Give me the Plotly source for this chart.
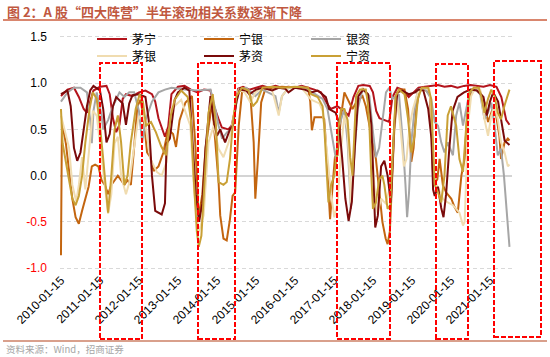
import numpy as np
import pandas as pd
import plotly.graph_objects as go

# ---------------- data ----------------
# x: months elapsed since 2010-01-15 ; y: rolling half-year correlation
BASE_DATE = "2010-01-15"

maoning = [(0,0.86),(2,0.93),(4,0.95),(5.5,0.85),(7,0.72),(8,0.68),(9,0.80),(10,0.92),(12,0.96),(14,0.97),
           (15,0.88),(16,0.62),(17,0.47),(18,0.55),(19,0.83),(20,0.88),(22,0.86),(24,0.90),(26,0.92),(28,0.88),
           (29,0.80),(30,0.62),(32,0.42),(33,0.53),(34,0.88),(36,0.96),(38,0.97),(40,0.93),(42,0.90),(44,0.93),
           (46,0.92),(47,0.76),(48.5,0.61),(49.5,0.52),(51.5,0.50),(52.5,0.54),(53.5,0.70),(54.5,0.94),(56,0.96),
           (58,0.93),(60,0.95),(62,0.97),(64,0.95),(66,0.97),(68,0.95),(70,0.96),(72,0.95),(74,0.97),(76,0.95),
           (78,0.93),(80,0.90),(81.5,0.80),(83,0.72),(85,0.75),(87,0.70),(88.5,0.65),(90,0.85),(91.5,0.97),
           (93,0.98),(95,0.97),(96,0.90),(97,0.70),(98,0.62),(99.5,0.60),(101,0.58),(102,0.85),(103.5,0.95),
           (105,0.93),(107,0.85),(108.5,0.90),(110,0.95),(112,0.96),(114,0.97),(116,0.98),(118,0.96),(120,0.97),
           (122,0.95),(124,0.97),(126,0.98),(128,0.97),(130,0.96),(132,0.98),(134,0.96),(135.5,0.85),(137,0.60),
           (138,0.55)]

ningyin = [(0,-0.86),(0.3,0.58),(1.5,0.35),(2.5,0.05),(3.5,-0.25),(4.5,-0.45),(5.5,-0.52),(6.5,-0.38),(7.5,-0.25),
           (8.5,-0.12),(9.5,0.10),(10.5,0.12),(11.5,0.10),(12.5,-0.05),(13.5,-0.10),(14.5,-0.20),(15.5,-0.10),
           (16.5,-0.05),(17.5,0.00),(18.5,-0.05),(19.5,-0.10),(20.5,-0.05),(21.5,-0.10),(22.5,0.30),(23.5,0.75),
           (24.5,0.82),(25.5,0.60),(26.5,0.25),(27.5,0.20),(28.5,0.05),(30,0.10),(31.5,0.25),(33,0.50),(34.5,0.45),
           (35.4,0.31),(36.5,0.60),(38.3,0.79),(40.3,0.86),(41.3,0.36),(42.4,-0.45),(43.5,-0.20),(44.5,0.30),
           (46.5,0.79),(47.5,0.36),(48.5,-0.07),(49,-0.43),(50,-0.68),(51,-0.70),(52,-0.47),(52.8,-0.22),(53.6,-0.18),
           (54.7,0.54),(55.7,0.90),(57,0.93),(58.3,0.86),(59.3,0.36),(59.8,-0.25),(60.6,0.18),(61.6,0.79),(62.8,0.93),
           (65,0.95),(68,0.96),(72,0.95),(76,0.95),(76.7,0.80),(77.2,0.49),(78,0.63),(80.5,0.63),(81,0.61),(81.5,0.36),
           (82.3,-0.14),(82.8,-0.47),(83.6,-0.10),(84.3,0.20),(85.1,0.22),(86.2,0.65),(87.2,0.90),(88.7,0.79),
           (89.7,0.72),(90.8,0.79),(92.8,0.86),(93.8,0.75),(94.9,0.52),(95.9,0.36),(96.9,0.18),(97.9,-0.18),
           (98.9,-0.50),(99.9,-0.68),(100.5,-0.74),(101.2,-0.60),(102,0.00),(103,0.86),(104.2,0.93),(105.7,0.93),
           (106.8,0.72),(107.8,0.15),(108.5,0.30),(109.3,0.72),(110.3,0.92),(112,0.93),(113.5,0.88),(114.5,0.00),
           (115.2,-0.07),(115.8,-0.04),(116.5,0.18),(117.5,-0.10),(118.5,-0.18),(120.1,-0.25),(121.1,-0.34),
           (122.1,-0.40),(123.2,0.00),(124.2,0.18),(125.2,0.79),(126.5,0.93),(128.5,0.95),(130.3,0.79),(131.4,0.58),
           (132.8,0.72),(133.9,0.65),(134.9,0.43),(135.4,0.18),(136.5,0.36),(137.5,0.40),(138,0.38)]

yinzi = [(0,0.80),(2,0.90),(4,0.95),(6,0.95),(8,0.90),(9,0.60),(9.5,0.35),(10,0.70),(11,0.90),(12.5,0.65),(13,0.50),
         (14.5,0.60),(16,0.75),(18,0.90),(19.5,0.85),(21,0.90),(22.5,0.90),(24,0.70),(25,0.36),(26,0.60),(28,0.80),
         (30,0.90),(32,0.93),(34,0.95),(38,0.93),(42,0.92),(46,0.93),(47.5,0.72),(48.5,0.54),(49.6,0.40),(51.1,0.47),
         (52.6,0.50),(53.6,0.72),(54.7,0.93),(57,0.95),(59.8,0.86),(62,0.93),(66,0.86),(67,0.68),(68,0.86),(70,0.95),
         (74,0.96),(77.4,0.90),(80.5,0.83),(82,0.72),(83.6,0.36),(84.6,0.18),(85.6,0.54),(87.2,0.72),(88.2,0.36),
         (89.2,-0.36),(90.2,0.18),(91.3,0.72),(92.8,0.93),(94.9,0.86),(95.9,0.50),(96.9,0.20),(97.9,0.30),(98.9,0.60),
         (100,0.90),(101,0.95),(102,0.83),(104,0.88),(105.2,0.36),(106,-0.10),(106.5,-0.45),(107.1,-0.18),(107.8,0.36),
         (108.8,0.72),(109.8,0.93),(112,0.94),(113.9,0.83),(115,0.58),(116,0.54),(117,0.36),(118,0.25),(119,0.36),
         (120.6,0.22),(121.6,0.65),(122.6,0.79),(123.7,0.54),(124.7,0.72),(125.7,0.90),(127.5,0.93),(129,0.88),
         (130.3,0.61),(131.4,0.68),(132.4,0.79),(133.4,0.54),(134.4,0.22),(135.4,0.29),(136.3,0.00),(137,-0.36),
         (138,-0.77)]

maoyin = [(0,0.65),(1.5,0.45),(2.5,0.30),(3.5,-0.10),(4.7,-0.28),(5.5,-0.10),(6.5,0.20),(7.5,-0.15),(8.8,0.35),
          (9.8,0.70),(11,0.65),(12.5,0.20),(14.5,-0.41),(15.5,-0.20),(16.5,0.35),(17.5,0.42),(18.5,0.00),(20,-0.20),
          (21,-0.08),(22,0.18),(23.7,0.60),(25,0.68),(26,0.55),(27.5,0.18),(29.5,0.04),(31,0.00),(32.5,0.15),
          (34,0.72),(37,0.82),(39.8,0.54),(41,-0.18),(42.4,-0.61),(43.9,-0.43),(45.4,0.36),(47,0.54),(48.5,0.29),
          (50,0.20),(51.6,0.36),(53.1,0.65),(54.7,0.93),(56.5,0.90),(58.3,0.79),(59.8,0.90),(62,0.95),(65,0.92),
          (67,0.65),(68,0.86),(70,0.95),(74,0.95),(77,0.82),(79.5,0.78),(80.5,0.70),(82,0.20),(83.1,-0.20),
          (84.1,-0.45),(85.1,-0.30),(86.2,0.30),(87.2,0.65),(88.2,0.50),(89.2,-0.30),(90.2,0.30),(91.3,0.85),
          (92.8,0.95),(94.4,0.85),(95.4,0.50),(96.4,-0.10),(97.4,-0.40),(98.5,-0.25),(99.9,-0.30),(101.5,-0.10),
          (102.6,0.50),(103.6,0.80),(104.5,0.50),(105.5,0.10),(106.3,0.18),(107.3,0.54),(108.3,0.72),(109.8,0.90),
          (111.5,0.95),(113.4,0.93),(113.9,0.72),(114.4,0.18),(115.2,-0.07),(116,-0.14),(117.5,-0.25),(119,-0.29),
          (120.6,-0.32),(121.6,-0.36),(122.6,-0.40),(123.7,-0.54),(124.2,-0.50),(124.7,0.00),(125.2,0.54),
          (126.2,0.86),(127.5,0.95),(129,0.93),(130.3,0.61),(131.4,0.43),(132.4,0.65),(133.4,0.75),(134.4,0.61),
          (135.4,0.36),(136.5,0.25),(137.5,0.10),(138,0.12)]

maozi = [(0,0.88),(1,0.90),(2,0.92),(3,0.75),(4,0.30),(5,0.16),(6,0.25),(7,0.50),(8,0.75),(9,0.92),(10,0.97),
         (12,0.92),(13,0.72),(14,0.36),(15,0.45),(16,0.75),(17,0.85),(19,0.78),(20,0.55),(21,0.78),(22,0.87),
         (24,0.88),(26,0.85),(27,0.60),(28,0.00),(29,-0.38),(30,-0.40),(31,-0.42),(32,-0.30),(32.5,0.35),(33.5,0.40),
         (35,0.82),(36,0.90),(38,0.95),(39.5,0.92),(40.5,0.40),(41.5,-0.20),(42.5,-0.50),(43.5,-0.30),(44.5,0.30),
         (46,0.86),(47,0.60),(48,0.43),(49,0.50),(50.5,0.36),(52,0.50),(53,0.55),(54,0.80),(55,0.93),(57,0.92),
         (58,0.88),(60,0.93),(62,0.95),(65,0.92),(67,0.95),(69,0.94),(70,0.90),(72,0.95),(75,0.93),(77,0.90),
         (79,0.92),(81.5,0.85),(82.5,0.72),(84.5,0.68),(85.5,0.58),(86.5,0.20),(87.5,-0.25),(88.5,-0.49),
         (89.5,-0.28),(90.5,0.36),(91.5,0.86),(93,0.93),(94.5,0.88),(95.5,0.55),(96,0.00),(96.7,-0.56),(97.5,-0.43),
         (98.5,0.10),(99.5,0.16),(100.5,0.00),(101.5,-0.29),(102.5,0.50),(103.5,0.90),(105,0.92),(107,0.88),
         (109,0.90),(110,0.93),(111.5,0.92),(113,0.72),(114,0.40),(114.5,-0.15),(115,-0.22),(116,-0.12),
         (117,-0.35),(117.7,-0.45),(118.5,-0.20),(119.5,0.30),(120.5,0.70),(122,0.85),(124,0.90),(126,0.93),
         (128,0.92),(130,0.85),(131,0.65),(132,0.80),(133,0.90),(134.5,0.80),(135.5,0.60),(136.5,0.38),(138,0.33)]

ningzi = [(0,0.72),(0.5,0.35),(1.5,0.15),(2.5,-0.03),(3.5,-0.25),(4.5,-0.32),(5.5,-0.22),(6.5,0.00),(7.5,0.36),
          (8.8,0.72),(9.8,0.90),(11,0.83),(12,0.54),(13,0.18),(14,-0.25),(14.5,-0.40),(15.5,0.00),(16.5,0.50),
          (17.5,0.65),(18.5,0.36),(19.5,-0.10),(20.5,0.00),(21.5,0.36),(23,0.72),(24.2,0.88),(25.2,0.80),
          (26.2,0.54),(27.7,0.58),(29.2,0.47),(30.8,0.32),(32.3,0.22),(33.8,0.65),(35,0.82),(37,0.92),(39,0.85),
          (40,0.60),(40.8,0.00),(41.8,-0.60),(42.4,-0.77),(43.2,-0.65),(44.4,0.07),(45.4,0.68),(46.7,0.88),
          (47.7,0.54),(48.5,-0.07),(50,-0.10),(51,-0.07),(52,0.18),(53,0.61),(54,0.86),(55.7,0.95),(57.7,0.92),
          (59,0.75),(60.3,0.80),(62,0.95),(65,0.96),(68,0.95),(72,0.96),(76,0.95),(77,0.88),(79,0.85),(80.5,0.75),
          (81,0.54),(81.5,0.18),(82.3,-0.29),(83.1,-0.10),(84.1,0.00),(84.8,0.18),(85.2,0.47),(86.2,0.72),
          (87.2,0.72),(88.2,0.60),(89,0.20),(89.7,0.00),(90.8,0.86),(92,0.93),(93.8,0.93),(94.4,0.79),(94.9,0.54),
          (95.5,0.00),(96,-0.36),(96.9,-0.29),(97.9,-0.04),(98.9,0.00),(99.5,-0.10),(100.5,-0.36),(101.3,-0.32),
          (102,0.18),(103,0.86),(104,0.93),(105.7,0.88),(106.8,0.61),(107.8,0.25),(108.8,0.43),(109.8,0.83),
          (111,0.95),(113,0.95),(113.9,0.83),(114.4,0.36),(115,-0.10),(116,-0.18),(117,-0.29),(118,0.00),
          (119,0.65),(120,0.75),(121.6,0.54),(122.6,0.18),(123.7,0.04),(124.7,0.54),(125.7,0.90),(127,0.95),
          (128.5,0.95),(129.3,0.86),(130.3,0.68),(131.4,0.83),(132.4,0.93),(133.4,0.86),(134.4,0.68),(135.4,0.61),
          (136.5,0.76),(138,0.93)]

series_names = ["茅宁", "宁银", "银资", "茅银", "茅资", "宁资"]
series_data = [maoning, ningyin, yinzi, maoyin, maozi, ningzi]
series_colors = ["#B3141C", "#C3650F", "#A6A6A6", "#F0DCB0", "#7A0A0A", "#C9A035"]

x_tick_labels = [f"{y}-01-15" for y in range(2010, 2022)]
y_tick_values = [-1.0, -0.5, 0.0, 0.5, 1.0, 1.5]

title_text = "图 2：A 股“四大阵营”半年滚动相关系数逐渐下降"
source_text = "资料来源：Wind，招商证券"

# ---------------- figure ----------------
W, H = 550, 357
ML, MR, MT, MB = 60, 38, 35, 87
PW, PH = W - ML - MR, H - MT - MB


def px(x):
    return (x - ML) / PW


def py(y):
    return 1 - (y - MT) / PH


base = pd.Timestamp(BASE_DATE)
fig = go.Figure()
for i, (name, data, color) in enumerate(zip(series_names, series_data, series_colors)):
    m = np.array([p[0] for p in data])
    v = [p[1] for p in data]
    dates = base + pd.to_timedelta(m * 30.4375, unit="D")
    fig.add_trace(go.Scatter(
        x=dates, y=v, mode="lines", name=name,
        line=dict(color=color, width=2),
        legend="legend" if i < 3 else "legend2",
        hoverinfo="skip",
    ))

ytext = []
for val in y_tick_values:
    s = f"{val:.1f}"
    ytext.append(f'<span style="color:#FF0000">{s}</span>' if val < 0 else s)

legend_common = dict(
    orientation="h", xanchor="left", yanchor="middle",
    bgcolor="rgba(0,0,0,0)", entrywidth=62, entrywidthmode="pixels",
    font=dict(family="Noto Sans CJK SC", size=12, color="#000000"),
    itemclick=False, itemdoubleclick=False,
)

fig.update_layout(
    width=W, height=H,
    margin=dict(l=ML, r=MR, t=MT, b=MB, autoexpand=False),
    paper_bgcolor="white", plot_bgcolor="white",
    font=dict(family="Liberation Sans, Arial", size=12, color="#000000"),
    xaxis=dict(
        type="date",
        range=["2010-01-06", "2021-08-09"],
        tickvals=[pd.Timestamp(t) for t in x_tick_labels],
        ticktext=x_tick_labels,
        tickangle=-45,
        showgrid=False, zeroline=False, showline=False, ticks="",
        automargin=False,
        tickfont=dict(family="Liberation Sans, Arial", size=12, color="#000000"),
    ),
    yaxis=dict(
        range=[-1.02, 1.52],
        tickvals=y_tick_values,
        ticktext=ytext,
        showgrid=True, gridcolor="#D9D9D9", griddash="4px,3px", gridwidth=1,
        zeroline=True, zerolinecolor="#D4D4D4", zerolinewidth=1.5,
        showline=False, ticks="",
        automargin=False,
        ticklabelstandoff=12,
        tickfont=dict(family="Liberation Sans, Arial", size=12, color="#000000"),
    ),
    legend=dict(x=px(92), y=py(39), **legend_common),
    legend2=dict(x=px(92), y=py(56), **legend_common),
    showlegend=True,
)

# title and footer
fig.add_annotation(
    text=f"<b>{title_text}</b>", xref="paper", yref="paper",
    x=px(5), y=py(11), xanchor="left", yanchor="middle", showarrow=False,
    font=dict(family="Noto Sans CJK SC", size=13, color="#C0583F"),
)
fig.add_annotation(
    text=source_text, xref="paper", yref="paper",
    x=px(4), y=py(349), xanchor="left", yanchor="middle", showarrow=False,
    font=dict(family="Noto Sans CJK SC", size=9.5, color="#A6A6A6"),
)
fig.add_shape(type="line", xref="paper", yref="paper", x0=px(3), x1=px(547), y0=py(20), y1=py(20),
              line=dict(color="#D9866E", width=2))
fig.add_shape(type="line", xref="paper", yref="paper", x0=px(3), x1=px(547), y0=py(341), y1=py(341),
              line=dict(color="#D9A08C", width=2))

# highlighted periods (red dashed boxes), in pixel space
boxes = [(100, 63, 142, 339), (198, 63, 235, 339), (337, 63, 390, 339), (436, 64, 468, 339), (494, 61, 541, 337)]
for (x0, y0, x1, y1) in boxes:
    fig.add_shape(type="rect", xref="paper", yref="paper",
                  x0=px(x0), x1=px(x1), y0=py(y1), y1=py(y0),
                  line=dict(color="#FF0000", width=2, dash="5px,2px"), fillcolor="rgba(0,0,0,0)")

fig.write_html("out.html", config={"displayModeBar": False},
               post_script="document.body.style.margin='0';document.body.style.overflow='hidden';")
